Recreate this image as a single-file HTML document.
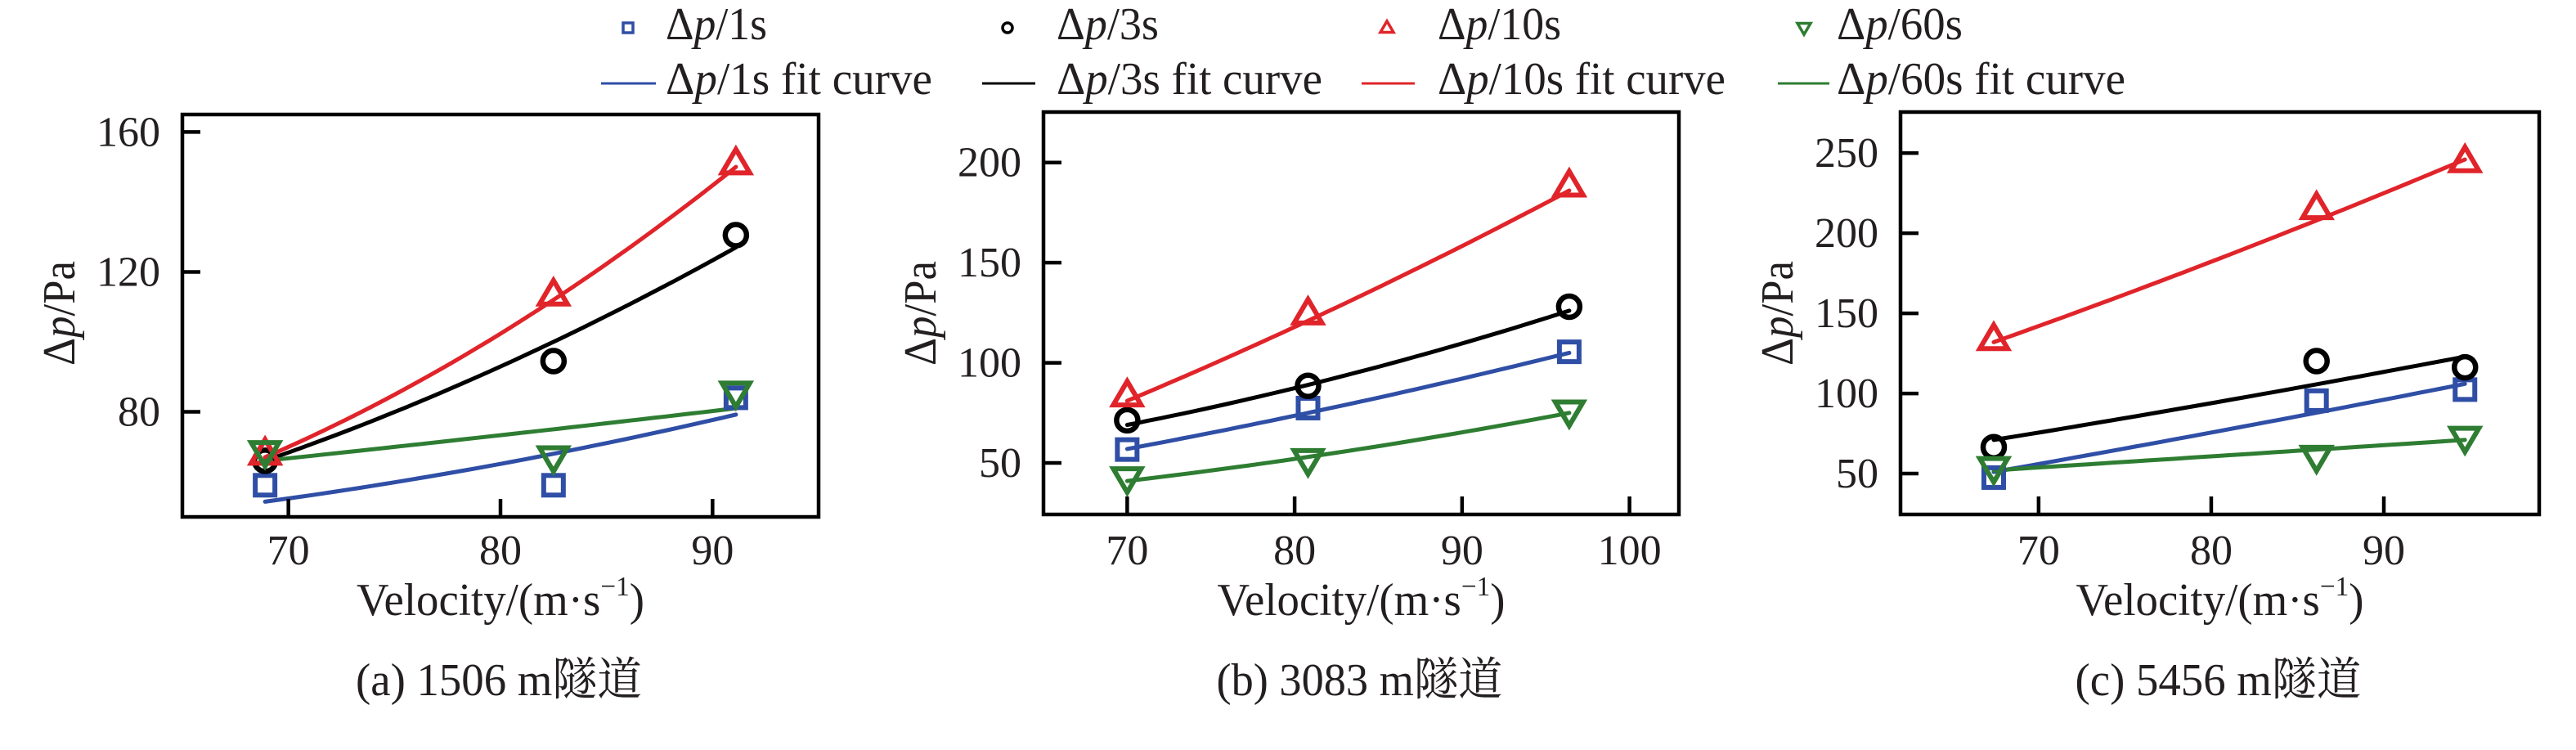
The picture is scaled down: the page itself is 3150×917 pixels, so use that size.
<!DOCTYPE html>
<html><head><meta charset="utf-8"><style>
html,body{margin:0;padding:0;background:#fff;}
svg{display:block;font-family:"Liberation Serif","Noto Serif CJK SC",serif;}
</style></head><body>
<svg id="chart" width="3150" height="917" viewBox="0 0 3150 917" xmlns="http://www.w3.org/2000/svg">
<g id="legend"></g>
</svg>
<script>
// ---------- data ----------
const seriesNames = ["1s", "3s", "10s", "60s"];
const seriesColors = ["#2f4ea5", "#000000", "#e0242a", "#2e7d32"];

// panel a: 1506 m tunnel
const velA = [68.9, 82.5, 91.1];
const a1s = [59, 59, 84];
const a3s = [66, 94.5, 130.5];
const a10s = [68, 113.5, 151];
const a60s = [68.5, 67, 85.5];
const aFit1s = [54.3, 68, 79.2];
const aFit3s = [66, 100, 127];
const aFit10s = [67, 112, 150];
const aFit60s = [66, 75, 81];
const aYTicks = [80, 120, 160];
const aXTicks = [70, 80, 90];

// panel b: 3083 m tunnel
const velB = [70.0, 80.8, 96.4];
const b1s = [56.7, 77.4, 105.5];
const b3s = [71.3, 88.5, 128];
const b10s = [83.7, 124.6, 188.5];
const b60s = [42.4, 51.5, 75.7];
const bFit1s = [57, 75, 105];
const bFit3s = [69, 89, 126];
const bFit10s = [81, 121, 186];
const bFit60s = [41, 53, 75];
const bYTicks = [50, 100, 150, 200];
const bXTicks = [70, 80, 90, 100];

// panel c: 5456 m tunnel
const velC = [67.4, 86.1, 94.7];
const c1s = [47.5, 95.5, 102.4];
const c3s = [66.5, 120.2, 116.3];
const c10s = [133.9, 215.6, 244.9];
const c60s = [53.5, 60.5, 72.4];
const cFit1s = [51, 88, 106];
const cFit3s = [71, 105.7, 123];
const cFit10s = [132, 208, 246];
const cFit60s = [52, 65, 71];
const cYTicks = [50, 100, 150, 200, 250];
const cXTicks = [70, 80, 90];

const captions = ["(a) 1506 m隧道", "(b) 3083 m隧道", "(c) 5456 m隧道"];

// ---------- drawing ----------
const NS = "http://www.w3.org/2000/svg";
const svg = document.getElementById("chart");
function mk(tag, attrs, parent) {
  const e = document.createElementNS(NS, tag);
  for (const k in attrs) e.setAttribute(k, attrs[k]);
  (parent || svg).appendChild(e);
  return e;
}
function marker(kind, cx, cy, s, color, sw, parent) {
  let e;
  if (kind === 0) {
    e = mk("rect", {x: cx - s/2, y: cy - s/2, width: s, height: s, fill: "none", stroke: color, "stroke-width": sw}, parent);
  } else if (kind === 1) {
    e = mk("circle", {cx: cx, cy: cy, r: s/2, fill: "none", stroke: color, "stroke-width": sw}, parent);
  } else if (kind === 2) {
    const h = s * 0.85;
    e = mk("polygon", {points: `${cx},${cy - h*0.6} ${cx + s/2},${cy + h*0.4} ${cx - s/2},${cy + h*0.4}`, fill: "none", stroke: color, "stroke-width": sw}, parent);
  } else {
    const h = s * 0.85;
    e = mk("polygon", {points: `${cx},${cy + h*0.6} ${cx + s/2},${cy - h*0.4} ${cx - s/2},${cy - h*0.4}`, fill: "none", stroke: color, "stroke-width": sw}, parent);
  }
  return e;
}
function lagrange(xs, ys, x) {
  let s = 0;
  for (let i = 0; i < xs.length; i++) {
    let t = ys[i];
    for (let j = 0; j < xs.length; j++) if (j !== i) t *= (x - xs[j]) / (xs[i] - xs[j]);
    s += t;
  }
  return s;
}

const panels = [
  {L: 223, R: 1001, T: 140, B: 632, x0: 65, x1: 95, y0: 49.95, y1: 165.0,
   vel: velA, pts: [a1s, a3s, a10s, a60s], fits: [aFit1s, aFit3s, aFit10s, aFit60s], yt: aYTicks, xt: aXTicks, key: "a"},
  {L: 1276, R: 2053, T: 137, B: 629, x0: 65, x1: 102.95, y0: 24.3, y1: 225.2,
   vel: velB, pts: [b1s, b3s, b10s, b60s], fits: [bFit1s, bFit3s, bFit10s, bFit60s], yt: bYTicks, xt: bXTicks, key: "b"},
  {L: 2324, R: 3105, T: 137, B: 629, x0: 62, x1: 99, y0: 24.5, y1: 275.6,
   vel: velC, pts: [c1s, c3s, c10s, c60s], fits: [cFit1s, cFit3s, cFit10s, cFit60s], yt: cYTicks, xt: cXTicks, key: "c"}
];

panels.forEach((p, pi) => {
  const g = mk("g", {});
  
  
  const X = v => p.L + (v - p.x0) / (p.x1 - p.x0) * (p.R - p.L);
  const Y = v => p.B - (v - p.y0) / (p.y1 - p.y0) * (p.B - p.T);

  p.fits.forEach((f, si) => {
    let d = "";
    const n = 40;
    for (let k = 0; k <= n; k++) {
      const xv = p.vel[0] + (p.vel[2] - p.vel[0]) * k / n;
      const yv = lagrange(p.vel, f, xv);
      d += (k ? "L" : "M") + X(xv).toFixed(1) + "," + Y(yv).toFixed(1);
    }
    const path = mk("path", {d: d, fill: "none", stroke: seriesColors[si], "stroke-width": 5, "stroke-linecap": "round"}, g);
    
    
  });
  p.pts.forEach((arr, si) => {
    arr.forEach((v, i) => {
      const sz = si === 0 ? 24 : (si === 1 ? 26 : 34);
      const m = marker(si, X(p.vel[i]), Y(v), sz, seriesColors[si], si === 1 ? 6.5 : 6, g);
      
      
    });
  });
  const fr = mk("rect", {x: p.L, y: p.T, width: p.R - p.L, height: p.B - p.T, fill: "none", stroke: "#000", "stroke-width": 4.5}, g);
  
  
  p.yt.forEach(v => {
    const t = mk("line", {x1: p.L, x2: p.L + 22, y1: Y(v), y2: Y(v), stroke: "#000", "stroke-width": 4.5}, g);
    
    
    const l = mk("text", {x: p.L - 27, y: Y(v) + 17, "text-anchor": "end", "font-size": 52, fill: "#231f20"}, g);
    l.textContent = v;
    
    
  });
  p.xt.forEach(v => {
    const t = mk("line", {x1: X(v), x2: X(v), y1: p.B, y2: p.B - 22, stroke: "#000", "stroke-width": 4.5}, g);
    
    
    const l = mk("text", {x: X(v), y: 690, "text-anchor": "middle", "font-size": 52, fill: "#231f20"}, g);
    l.textContent = v;
    
    
  });
  const cy = 383, cx = p.L - 151;
  const yt = mk("text", {x: 0, y: 0, "text-anchor": "middle", "font-size": 56, fill: "#231f20", textLength: 128, lengthAdjust: "spacingAndGlyphs",
    transform: `translate(${cx + 19},${cy}) rotate(-90)`}, g);
  yt.innerHTML = 'Δ<tspan font-style="italic">p</tspan>/Pa';
  
  
  const mid = (p.L + p.R) / 2;
  const xt = mk("text", {x: mid, y: 752, "text-anchor": "middle", "font-size": 56, fill: "#231f20", textLength: 352, lengthAdjust: "spacingAndGlyphs"}, g);
  xt.innerHTML = 'Velocity/(m·s<tspan font-size="34" dy="-24">−1</tspan><tspan dy="24">)</tspan>';
  
  
  const cap = mk("text", {x: mid - 2, y: 850, "text-anchor": "middle", "font-size": 56, fill: "#231f20", textLength: 350, lengthAdjust: "spacingAndGlyphs"}, g);
  cap.textContent = captions[pi];
  
  
});

const legend = document.getElementById("legend");
const legMarkX = [768, 1232, 1696, 2206];
const legTextX = [814, 1292, 1758, 2246];
const legLine = [[735, 802], [1201, 1266], [1665, 1730], [2174, 2237]];
const legW1 = [124, 125, 151, 154];
const legW2 = [326, 325, 352, 353];
seriesNames.forEach((nm, i) => {
  const m = marker(i, legMarkX[i], 34, i >= 2 ? 16 : 12, seriesColors[i], 3.5, legend);
  
  
  const t1 = mk("text", {x: legTextX[i], y: 48, "font-size": 56, fill: "#231f20", textLength: legW1[i], lengthAdjust: "spacingAndGlyphs"}, legend);
  t1.innerHTML = 'Δ<tspan font-style="italic">p</tspan>/' + nm;
  
  
  const ln = mk("line", {x1: legLine[i][0], x2: legLine[i][1], y1: 102, y2: 102, stroke: seriesColors[i], "stroke-width": 3}, legend);
  
  
  const t2 = mk("text", {x: legTextX[i], y: 115, "font-size": 56, fill: "#231f20", textLength: legW2[i], lengthAdjust: "spacingAndGlyphs"}, legend);
  t2.innerHTML = 'Δ<tspan font-style="italic">p</tspan>/' + nm + ' fit curve';
  
  
});
</script>
</body></html>
